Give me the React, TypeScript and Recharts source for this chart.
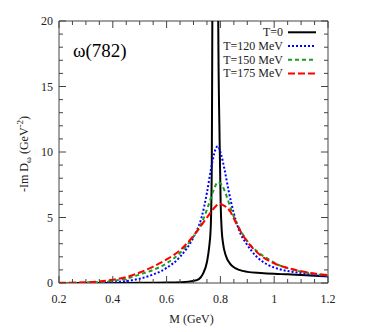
import React from 'react';
import { LineChart, Line, XAxis, YAxis, ReferenceArea } from 'recharts';

// ticks (minor + major) and labelled ticks
const X_TICKS = [0.2, 0.25, 0.3, 0.35, 0.4, 0.45, 0.5, 0.55, 0.6, 0.65, 0.7, 0.75, 0.8, 0.85, 0.9, 0.95, 1, 1.05, 1.1, 1.15, 1.2];
const X_LABELS = [0.2, 0.4, 0.6, 0.8, 1, 1.2];
const Y_TICKS = [0, 1, 2, 3, 4, 5, 6, 7, 8, 9, 10, 11, 12, 13, 14, 15, 16, 17, 18, 19, 20];
const Y_LABELS = [0, 5, 10, 15, 20];

// T = 0
const T0_M = [0.2, 0.3, 0.4, 0.5, 0.6, 0.65, 0.7, 0.72, 0.735, 0.75, 0.758, 0.764, 0.768, 0.77, 0.776, 0.782, 0.788, 0.792, 0.797, 0.801, 0.805, 0.81, 0.82, 0.835, 0.85, 0.87, 0.9, 0.95, 1.0, 1.05, 1.1, 1.15, 1.2];
const T0_V = [0.0, 0.002, 0.005, 0.01, 0.03, 0.06, 0.16, 0.3, 0.7, 1.6, 2.7, 4.2, 9, 20, 50, 80, 50, 20, 11, 6, 4, 3, 2.1, 1.5, 1.2, 1.0, 0.85, 0.76, 0.7, 0.66, 0.61, 0.56, 0.5];

// T = 120 MeV
const T120_M = [0.2, 0.3, 0.35, 0.4, 0.45, 0.5, 0.55, 0.6, 0.65, 0.7, 0.73, 0.75, 0.765, 0.78, 0.79, 0.8, 0.815, 0.83, 0.85, 0.87, 0.9, 0.935, 0.975, 1.02, 1.08, 1.14, 1.2];
const T120_V = [0.002, 0.01, 0.03, 0.07, 0.15, 0.33, 0.65, 1.15, 2.0, 3.5, 5.0, 6.9, 8.7, 10.1, 10.45, 10.0, 8.7, 7.1, 5.3, 4.0, 2.9, 2.0, 1.4, 1.05, 0.82, 0.65, 0.5];

// T = 150 MeV
const T150_M = [0.2, 0.3, 0.35, 0.4, 0.45, 0.5, 0.55, 0.6, 0.65, 0.7, 0.735, 0.755, 0.775, 0.79, 0.805, 0.82, 0.84, 0.86, 0.9, 0.94, 0.98, 1.02, 1.08, 1.14, 1.2];
const T150_V = [0.005, 0.03, 0.07, 0.16, 0.33, 0.65, 1.0, 1.5, 2.3, 3.55, 4.8, 5.9, 7.1, 7.7, 7.5, 6.8, 5.6, 4.6, 3.2, 2.35, 1.8, 1.35, 0.97, 0.72, 0.55];

// T = 175 MeV
const T175_M = [0.2, 0.3, 0.35, 0.4, 0.45, 0.5, 0.55, 0.6, 0.65, 0.7, 0.75, 0.78, 0.795, 0.81, 0.835, 0.86, 0.885, 0.91, 0.95, 1.0, 1.05, 1.1, 1.15, 1.2];
const T175_V = [0.01, 0.05, 0.12, 0.25, 0.45, 0.8, 1.25, 1.8, 2.5, 3.6, 5.0, 5.8, 6.05, 5.95, 5.5, 4.5, 3.6, 2.9, 2.1, 1.5, 1.15, 0.9, 0.72, 0.6];

const SERIES = [
  { name: 'T=0', m: T0_M, v: T0_V, color: '#000000', dash: undefined },
  { name: 'T=120 MeV', m: T120_M, v: T120_V, color: '#0000ff', dash: '2 2' },
  { name: 'T=150 MeV', m: T150_M, v: T150_V, color: '#1e9e1e', dash: '4 3' },
  { name: 'T=175 MeV', m: T175_M, v: T175_V, color: '#ff0000', dash: '7 3' },
];

const W = 358;
const H = 322;
const LEFT = 51;
const TOP = 13;
const PLOT_W = 269;
const PLOT_H = 262;
const FONT = "'Liberation Serif', 'Times New Roman', serif";
const FRAME = '#444';
const TXT = { fontFamily: FONT };

const isMajor = (list: number[], v: number) => list.some(l => Math.abs(l - v) < 1e-6);

function XTick({ x, y, payload }: any) {
  const major = isMajor(X_LABELS, payload.value);
  const len = major ? 7 : 4;
  return (
    <g>
      <line x1={x} x2={x} y1={y} y2={y - len} stroke={FRAME} />
      <line x1={x} x2={x} y1={y - PLOT_H} y2={y - PLOT_H + len} stroke={FRAME} />
      {major && (
        <text x={x} y={y + 20} textAnchor="middle" fontSize={12} style={TXT} fill="#222">
          {String(payload.value)}
        </text>
      )}
    </g>
  );
}

function YTick({ x, y, payload }: any) {
  const major = isMajor(Y_LABELS, payload.value);
  const len = major ? 7 : 4;
  return (
    <g>
      <line x1={x} x2={x + len} y1={y} y2={y} stroke={FRAME} />
      <line x1={x + PLOT_W} x2={x + PLOT_W - len} y1={y} y2={y} stroke={FRAME} />
      {major && (
        <text x={x - 6} y={y} dy="0.35em" textAnchor="end" fontSize={12} style={TXT} fill="#222">
          {String(payload.value)}
        </text>
      )}
    </g>
  );
}

export default function App() {
  const legendRight = 275;
  const legendTop = 24.3;
  const rowGap = 13.7;

  return (
    <div style={{ position: 'relative', width: W, height: H }}>
      <LineChart width={W} height={H} margin={{ top: TOP, right: W - LEFT - PLOT_W, left: 0, bottom: 0 }}>
        <XAxis
          dataKey="m"
          type="number"
          domain={[0.2, 1.2]}
          ticks={X_TICKS}
          interval={0}
          allowDataOverflow
          height={H - TOP - PLOT_H}
          tickSize={0}
          tickMargin={0}
          tickLine={false}
          axisLine={false}
          tick={<XTick />}
        />
        <YAxis
          type="number"
          domain={[0, 20]}
          ticks={Y_TICKS}
          interval={0}
          allowDataOverflow
          width={LEFT}
          tickSize={0}
          tickMargin={0}
          tickLine={false}
          axisLine={false}
          tick={<YTick />}
        />
        <ReferenceArea x1={0.2} x2={1.2} y1={0} y2={20} fill="none" stroke={FRAME} strokeWidth={1} fillOpacity={0} />
        {SERIES.map(s => (
          <Line
            key={s.name}
            data={s.m.map((m, i) => ({ m, v: s.v[i] }))}
            dataKey="v"
            type="monotone"
            stroke={s.color}
            strokeWidth={2}
            strokeDasharray={s.dash}
            dot={false}
            activeDot={false}
            isAnimationActive={false}
          />
        ))}
      </LineChart>
      <svg
        width={W}
        height={H}
        style={{ position: 'absolute', left: 0, top: 0, pointerEvents: 'none', fontFamily: FONT }}
      >
        <text x={65} y={49} fontSize={19} fill="#000">ω(782)</text>
        {SERIES.map((s, i) => (
          <g key={s.name}>
            <text x={legendRight} y={legendTop + i * rowGap + 4} textAnchor="end" fontSize={12} fill="#222">
              {s.name}
            </text>
            <line
              x1={280}
              x2={308}
              y1={legendTop + i * rowGap}
              y2={legendTop + i * rowGap}
              stroke={s.color}
              strokeWidth={2}
              strokeDasharray={s.dash}
            />
          </g>
        ))}
        <text x={LEFT + PLOT_W / 2 - 2} y={315} textAnchor="middle" fontSize={12} fill="#222">M (GeV)</text>
        <text transform={`translate(20, 146) rotate(-90)`} textAnchor="middle" fontSize={12} fill="#222">
          -Im D<tspan fontSize={9} dy={3}>ω</tspan><tspan dy={-3}> (GeV</tspan>
          <tspan fontSize={9} dy={-5}>-2</tspan><tspan dy={5}>)</tspan>
        </text>
      </svg>
    </div>
  );
}
